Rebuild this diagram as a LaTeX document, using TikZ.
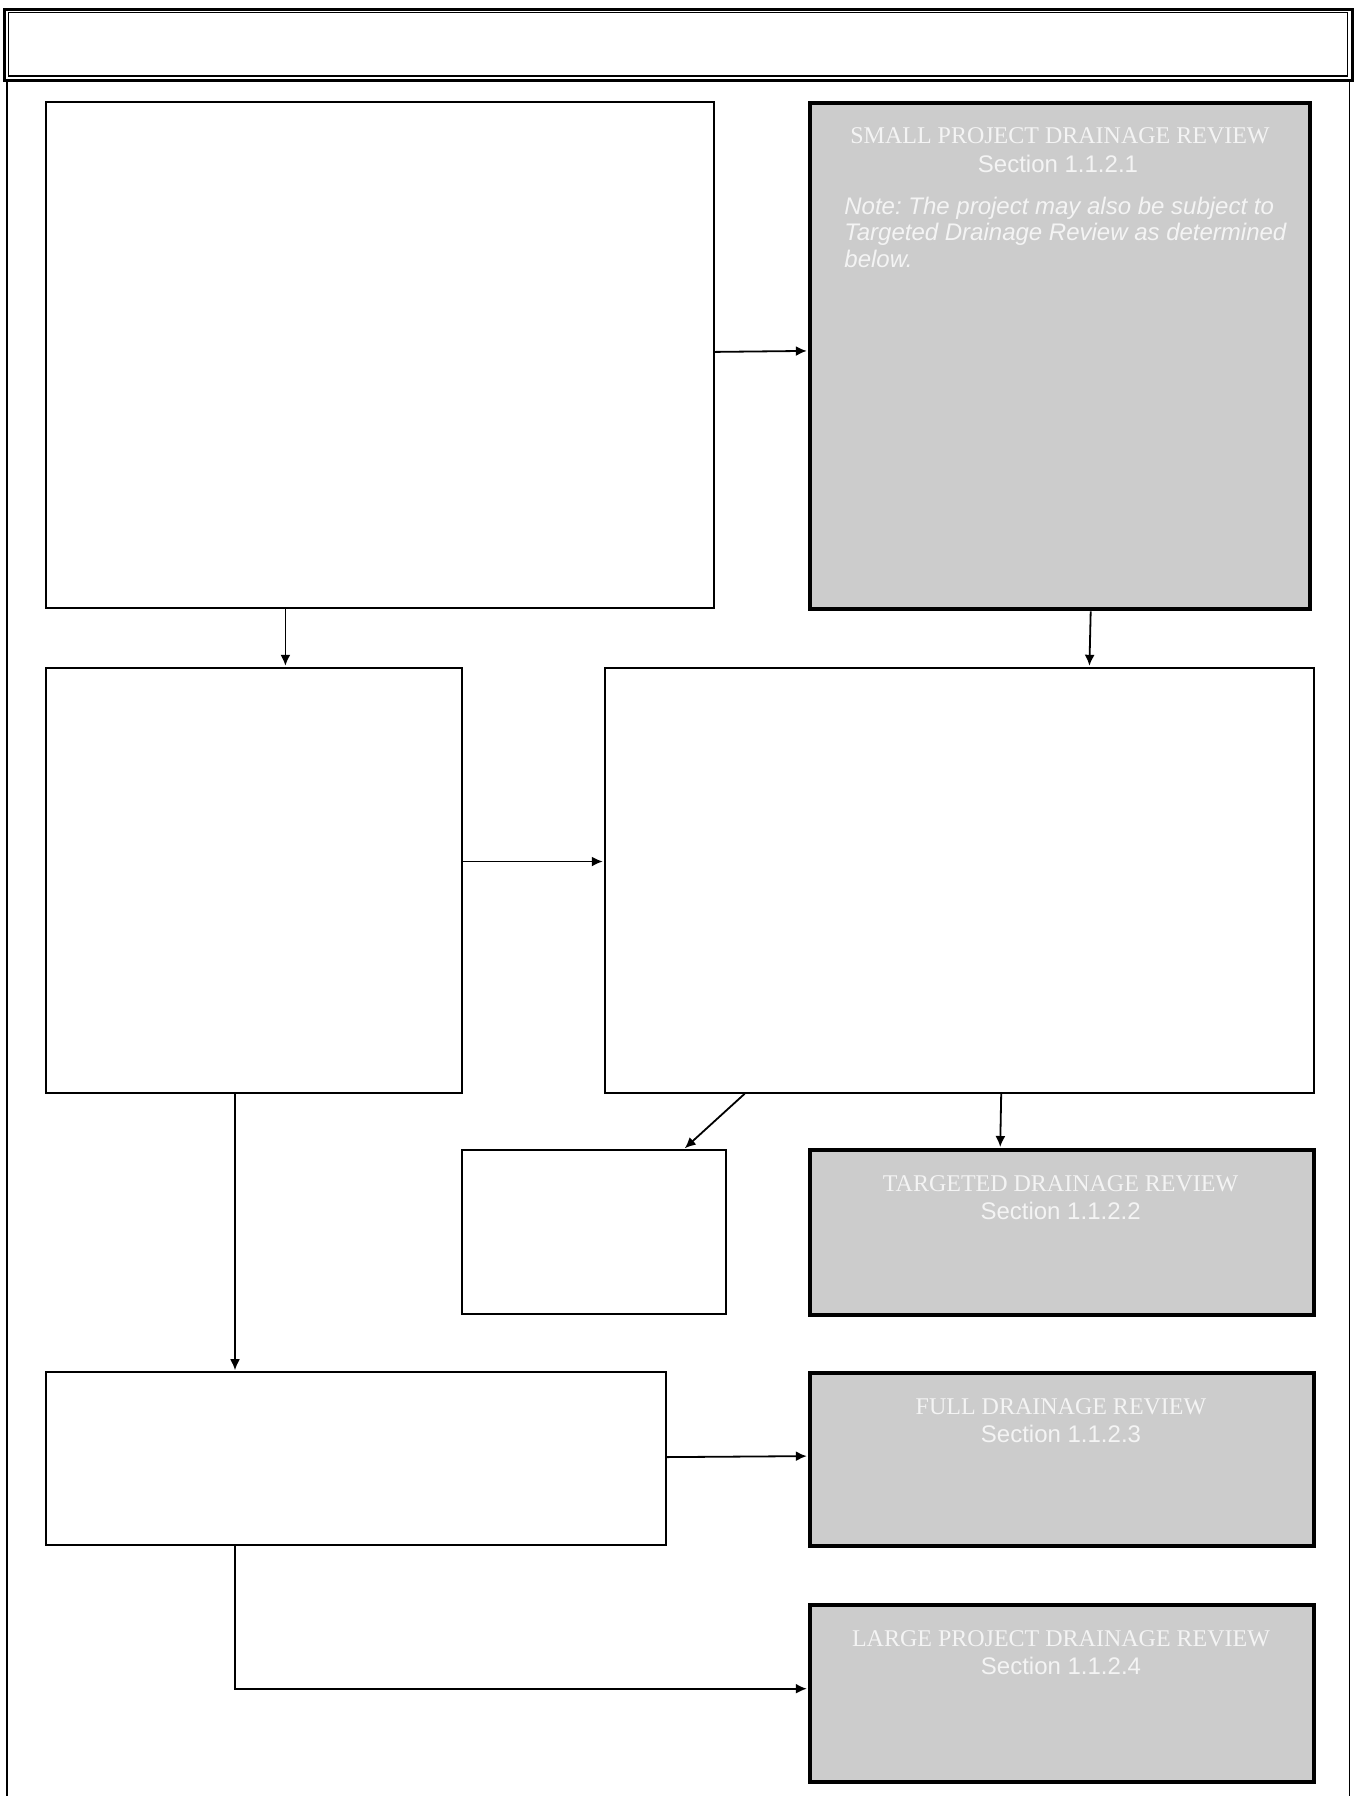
\documentclass[tikz,border=0pt]{standalone}
\usepackage{fontspec}
\setmainfont{Liberation Serif}
\setsansfont{Liberation Sans}
\usetikzlibrary{arrows.meta,fit,calc}
\definecolor{boxgray}{HTML}{CCCCCC}
\definecolor{txtw}{HTML}{F4F4F4}
\frenchspacing
\tikzset{
  wbox/.style={draw, line width=1pt, fill=white, inner sep=0pt},
  gbox/.style={draw, line width=2pt, fill=boxgray, inner sep=0pt},
  conn/.style={line width=0.9pt, -{Latex[length=5.5pt,width=5pt]}, shorten >=0.5pt},
  ttl/.style={font=\rmfamily\fontsize{12}{14}\selectfont, text=txtw, anchor=base, inner sep=0pt},
  sec/.style={font=\sffamily\fontsize{12}{14}\selectfont, text=txtw, anchor=base, inner sep=0pt},
  note/.style={font=\sffamily\itshape\fontsize{12}{13.3}\selectfont, text=txtw, anchor=base west, inner sep=0pt, align=left},
  frame/.style={line width=0.7pt}
}
\begin{document}
\begin{tikzpicture}[x=0.5pt,y=-0.5pt]
\useasboundingbox (0,0) rectangle (1355,1796);
% page frame
\draw[line width=1.5pt] (4,9) rectangle (1352,80);
\draw[line width=0.6pt] (8.5,12.5) rectangle (1347.5,76);
\draw[frame] (7,80) -- (7,1796);
\draw[frame] (1349.5,80) -- (1349.5,1796);
% boxes
\node[wbox, fit={(45.8,101.9) (713.6,608.2)}] (A) {};
\node[gbox, fit={(809.8,103) (1310.3,609.4)}] (B) {};
\node[wbox, fit={(45.8,667.8) (461.6,1092.7)}] (C) {};
\node[wbox, fit={(604.8,667.8) (1313.8,1092.7)}] (D) {};
\node[wbox, fit={(461.6,1150) (726.2,1313.8)}] (E) {};
\node[gbox, fit={(809.8,1150) (1313.8,1314.9)}] (F) {};
\node[wbox, fit={(45.8,1372.2) (665.5,1545.1)}] (G) {};
\node[gbox, fit={(809.8,1373.3) (1313.8,1546.3)}] (H) {};
\node[gbox, fit={(809.8,1604.7) (1313.8,1782.2)}] (I) {};
% texts
\node[ttl] (Bt) at (1060,143) {SMALL PROJECT DRAINAGE REVIEW};
\node[sec] (Bs) at (1058,172.5) {Section 1.1.2.1};
\node[note] (Bn) at (844,267.5) {Note: The project may also be subject to\\Targeted Drainage Review as determined\\below.};
\node[ttl] (Ft) at (1060.6,1191) {TARGETED DRAINAGE REVIEW};
\node[sec] (Fs) at (1060.6,1219) {Section 1.1.2.2};
\node[ttl] (Ht) at (1061,1414.5) {FULL DRAINAGE REVIEW};
\node[sec] (Hs) at (1061,1442.5) {Section 1.1.2.3};
\node[ttl] (It) at (1061,1646) {LARGE PROJECT DRAINAGE REVIEW};
\node[sec] (Is) at (1061,1674) {Section 1.1.2.4};
% connectors
\draw[conn] ($(A.north east)+(0,251)$) -- ($(B.north west)+(0,249.9)$);
\draw[conn] ($(A.south west)+(240.6,0)$) -- ($(C.north west)+(240.6,0)$);
\draw[conn] ($(B.south west)+(282.9,0)$) -- ($(D.north west)+(485.6,0)$);
\draw[conn] ($(C.north east)+(0,194.7)$) -- ($(D.north west)+(0,194.7)$);
\draw[conn] ($(C.south west)+(190.2,0)$) -- ($(G.north west)+(190.2,0)$);
\draw[conn] ($(D.south west)+(140.9,0)$) -- ($(E.north west)+(223.4,0)$);
\draw[conn] ($(D.south west)+(397.4,0)$) -- ($(F.north west)+(192.4,0)$);
\draw[conn] ($(G.north east)+(0,85.9)$) -- ($(H.north west)+(0,84.8)$);
\draw[conn] ($(G.south west)+(190.2,0)$) |- ($(I.north west)+(0,86)$);
\end{tikzpicture}
\end{document}
